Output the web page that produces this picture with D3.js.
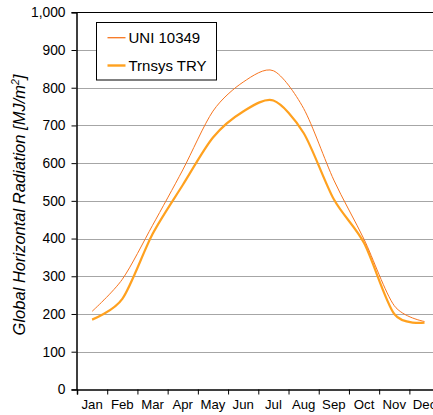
<!DOCTYPE html>
<html><head><meta charset="utf-8">
<script src="https://cdn.jsdelivr.net/npm/d3@7"></script>
<style>
html,body{margin:0;padding:0;background:#fff;overflow:hidden}
svg{display:block;font-family:"Liberation Sans",Arial,sans-serif}
</style></head>
<body><svg id="c" width="433" height="415"></svg>
<script>
const months = ["Jan","Feb","Mar","Apr","May","Jun","Jul","Aug","Sep","Oct","Nov","Dec"];
const uni10349 = [207, 292, 435, 582, 738, 815, 845, 745, 555, 398, 222, 180];
const trnsysTRY = [185, 240, 412, 542, 668, 737, 766, 680, 504, 388, 200, 177];
const yTicks = [0,100,200,300,400,500,600,700,800,900,1000];
const seriesNames = ["UNI 10349", "Trnsys TRY"];

const svg = d3.select("#c");
const L = 77, R = 439.6, T = 12.3, B = 389.4;
const x = d3.scaleBand().domain(months).range([L, R]);
const xEdge = d3.scaleLinear().domain([0, 12]).range([L, R]);
const y = d3.scaleLinear().domain([0, 1000]).range([B, T]);

// gridlines
svg.append("g").selectAll("line").data(yTicks.filter(d => d > 0)).join("line")
  .attr("x1", L).attr("x2", 433)
  .attr("y1", d => Math.round(y(d)) + 0.5).attr("y2", d => Math.round(y(d)) + 0.5)
  .attr("stroke", "#a6a6a6").attr("stroke-width", 1);

// top border
svg.append("line").attr("x1", L).attr("x2", 433)
  .attr("y1", Math.round(T) + 0.5).attr("y2", Math.round(T) + 0.5)
  .attr("stroke", "#000").attr("stroke-width", 1);

// y axis
const yAxis = svg.append("g").attr("transform", `translate(${Math.round(L) - 0.5},0)`)
  .call(d3.axisLeft(y).tickValues(yTicks).tickSize(5).tickPadding(6).tickFormat(d3.format(",")));
yAxis.select(".domain").attr("stroke", "#000").attr("stroke-width", 1.5);
yAxis.selectAll(".tick line").attr("stroke", "#000");
yAxis.selectAll(".tick text").attr("font-size", "13.8px").attr("fill", "#000")
  .attr("font-family", "'Liberation Sans', Arial, sans-serif");

// x axis: boundary ticks
const xAxisT = svg.append("g").attr("transform", `translate(0,${Math.round(B) + 0.5})`)
  .call(d3.axisBottom(xEdge).tickValues(d3.range(0, 13)).tickSize(5).tickFormat(""));
xAxisT.select(".domain").attr("stroke", "#000").attr("stroke-width", 1.5);
xAxisT.selectAll(".tick line").attr("stroke", "#000");
// x labels
const xAxisL = svg.append("g").attr("transform", `translate(0,${Math.round(B)})`)
  .call(d3.axisBottom(x).tickSize(0).tickPadding(11));
xAxisL.select(".domain").remove();
xAxisL.selectAll(".tick text").attr("font-size", "13.2px").attr("fill", "#000")
  .attr("font-family", "'Liberation Sans', Arial, sans-serif");

// lines
const line = d3.line().x((d, i) => x(months[i]) + x.bandwidth() / 2).y(d => y(d))
  .curve(d3.curveCardinal.tension(0.15));
svg.append("path").datum(trnsysTRY).attr("d", line)
  .attr("fill", "none").attr("stroke", "#ffa11f").attr("stroke-width", 2.2);
svg.append("path").datum(uni10349).attr("d", line)
  .attr("fill", "none").attr("stroke", "#f7751f").attr("stroke-width", 1);

// legend
const lg = svg.append("g");
lg.append("rect").attr("x", 96.5).attr("y", 22.5).attr("width", 120).attr("height", 57.5)
  .attr("fill", "#fff").attr("stroke", "#000").attr("stroke-width", 1);
const legColors = ["#f7751f", "#ffa11f"], legW = [1.3, 2.4], legY = [37.7, 65.5];
seriesNames.forEach((n, i) => {
  lg.append("line").attr("x1", 107.5).attr("x2", 125.5).attr("y1", legY[i]).attr("y2", legY[i])
    .attr("stroke", legColors[i]).attr("stroke-width", legW[i]);
  lg.append("text").attr("x", 128.5).attr("y", legY[i]).attr("dy", "0.36em")
    .attr("font-size", "15px").attr("fill", "#000").text(n);
});

// y title
const t = svg.append("text").attr("transform", "translate(25,205) rotate(-90)")
  .attr("text-anchor", "middle").attr("font-size", "16.5px").attr("font-style", "italic").attr("fill", "#000");
t.append("tspan").text("Global Horizontal Radiation [MJ/m");
t.append("tspan").attr("font-size", "10.5px").attr("dy", "-6.5").text("2");
t.append("tspan").attr("dy", "6.5").text("]");
</script></body></html>
